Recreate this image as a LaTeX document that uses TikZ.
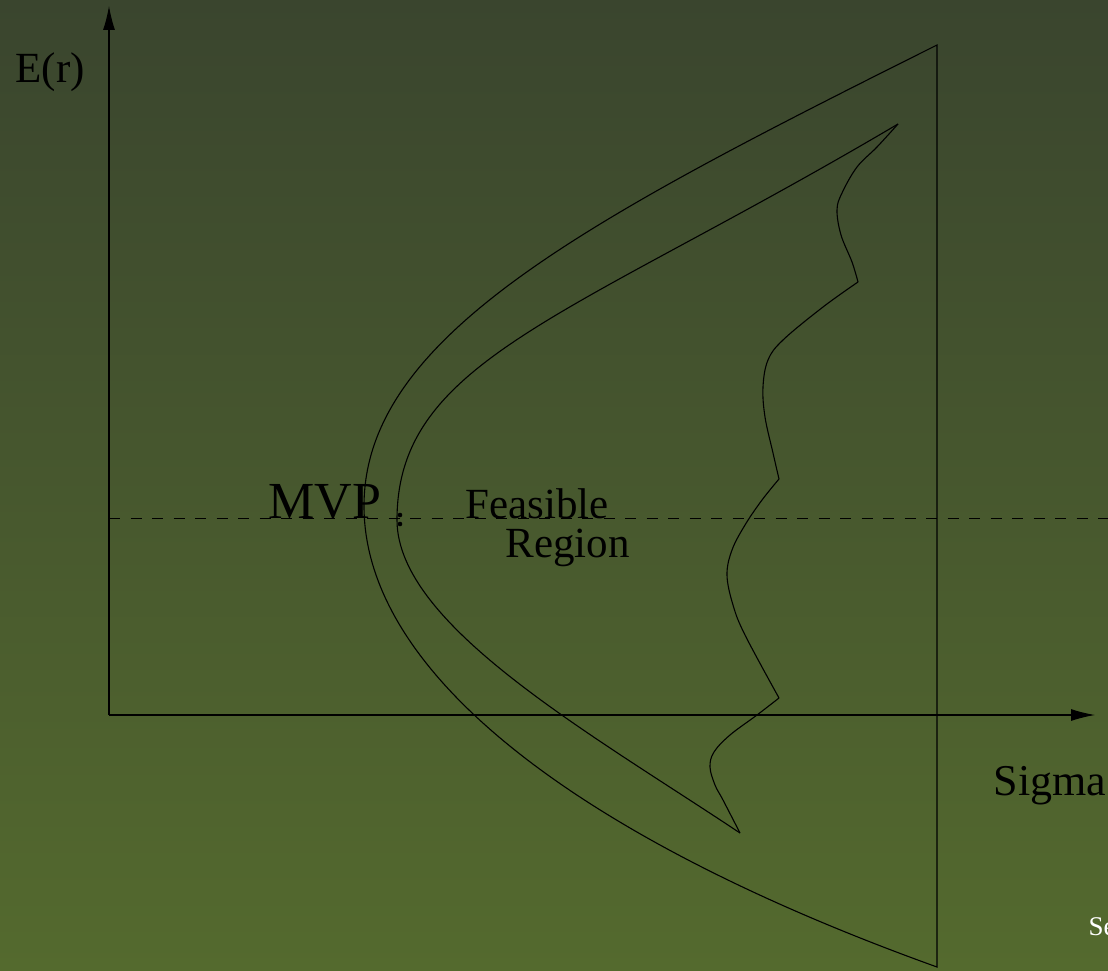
\documentclass[tikz,border=0pt]{standalone}
\usepackage{fontspec}
\setmainfont{Liberation Serif}
\usetikzlibrary{arrows.meta}
\definecolor{bgtop}{RGB}{58,69,46}
\definecolor{bgbot}{RGB}{84,106,46}
\tikzset{
 lbl/.style={anchor=base west,inner sep=0pt,font=\fontsize{43}{50}\selectfont},
 axis/.style={-{Latex[length=24pt,width=12pt]}},
 wiggle/.style={smooth,tension=.6},
}
\begin{document}
\begin{tikzpicture}[x=1pt,y=1pt,line width=1.1pt]
 \useasboundingbox (0,0) rectangle (1108,-971);
 \clip (0,0) rectangle (1108,-971);
 \shade[top color=bgtop,bottom color=bgbot] (0,0) rectangle (1108,-971);
 \coordinate (O) at (109,-715);
 \coordinate (ytip) at (109,-6);
 \coordinate (xtip) at (1095,-715);
 \draw[axis] (O)--(ytip);
 \draw[axis] (O)--(xtip);
 \coordinate (dl) at (109,-518);
 \coordinate (dr) at (1108,-518);
 \draw[dash pattern=on 11pt off 10.5pt,line width=1pt] (dl)--(dr);
 % outer frontier
 \draw (937,-45) .. controls (587,-220) and (364,-336) .. (364,-506)
   .. controls (364,-670) and (570,-835) .. (937,-967) -- cycle;
 % feasible region
 \draw (898,-124) .. controls (568,-319) and (397,-360) .. (397,-520)
   .. controls (397,-625) and (590,-733) .. (740,-833);
 \draw plot[wiggle] coordinates {(898,-124) (877,-147) (857,-167) (842,-193) (837,-210) (841,-235) (852,-262) (858,-282)};
 \draw plot[wiggle] coordinates {(858,-282) (823,-307) (783,-340) (768,-360) (763,-387) (765,-417) (773,-453) (779,-479)};
 \draw plot[wiggle] coordinates {(779,-479) (762,-500) (745,-525) (732,-550) (727,-575) (733,-605) (745,-635) (779,-698)};
 \draw plot[wiggle] coordinates {(779,-698) (757,-715) (730,-735) (714,-752) (710,-767) (715,-785) (723,-800) (740,-833)};
 \fill (400,-515) circle (2.3);
 \fill (400,-524) circle (2.3);
 \node[lbl] (er) at (15,-83) {E(r)};
 \node[lbl,font=\fontsize{52}{60}\selectfont] (mvp) at (268,-518) {MVP};
 \node[lbl] (feas) at (465,-518) {Feasible};
 \node[lbl] (reg) at (505,-557) {Region};
 \node[lbl,font=\fontsize{44}{50}\selectfont] (sig) at (993,-795) {Sigma};
 \node[lbl,text=white,font=\fontsize{27}{30}\selectfont] (src) at (1088,-935) {Se};
\end{tikzpicture}
\end{document}
